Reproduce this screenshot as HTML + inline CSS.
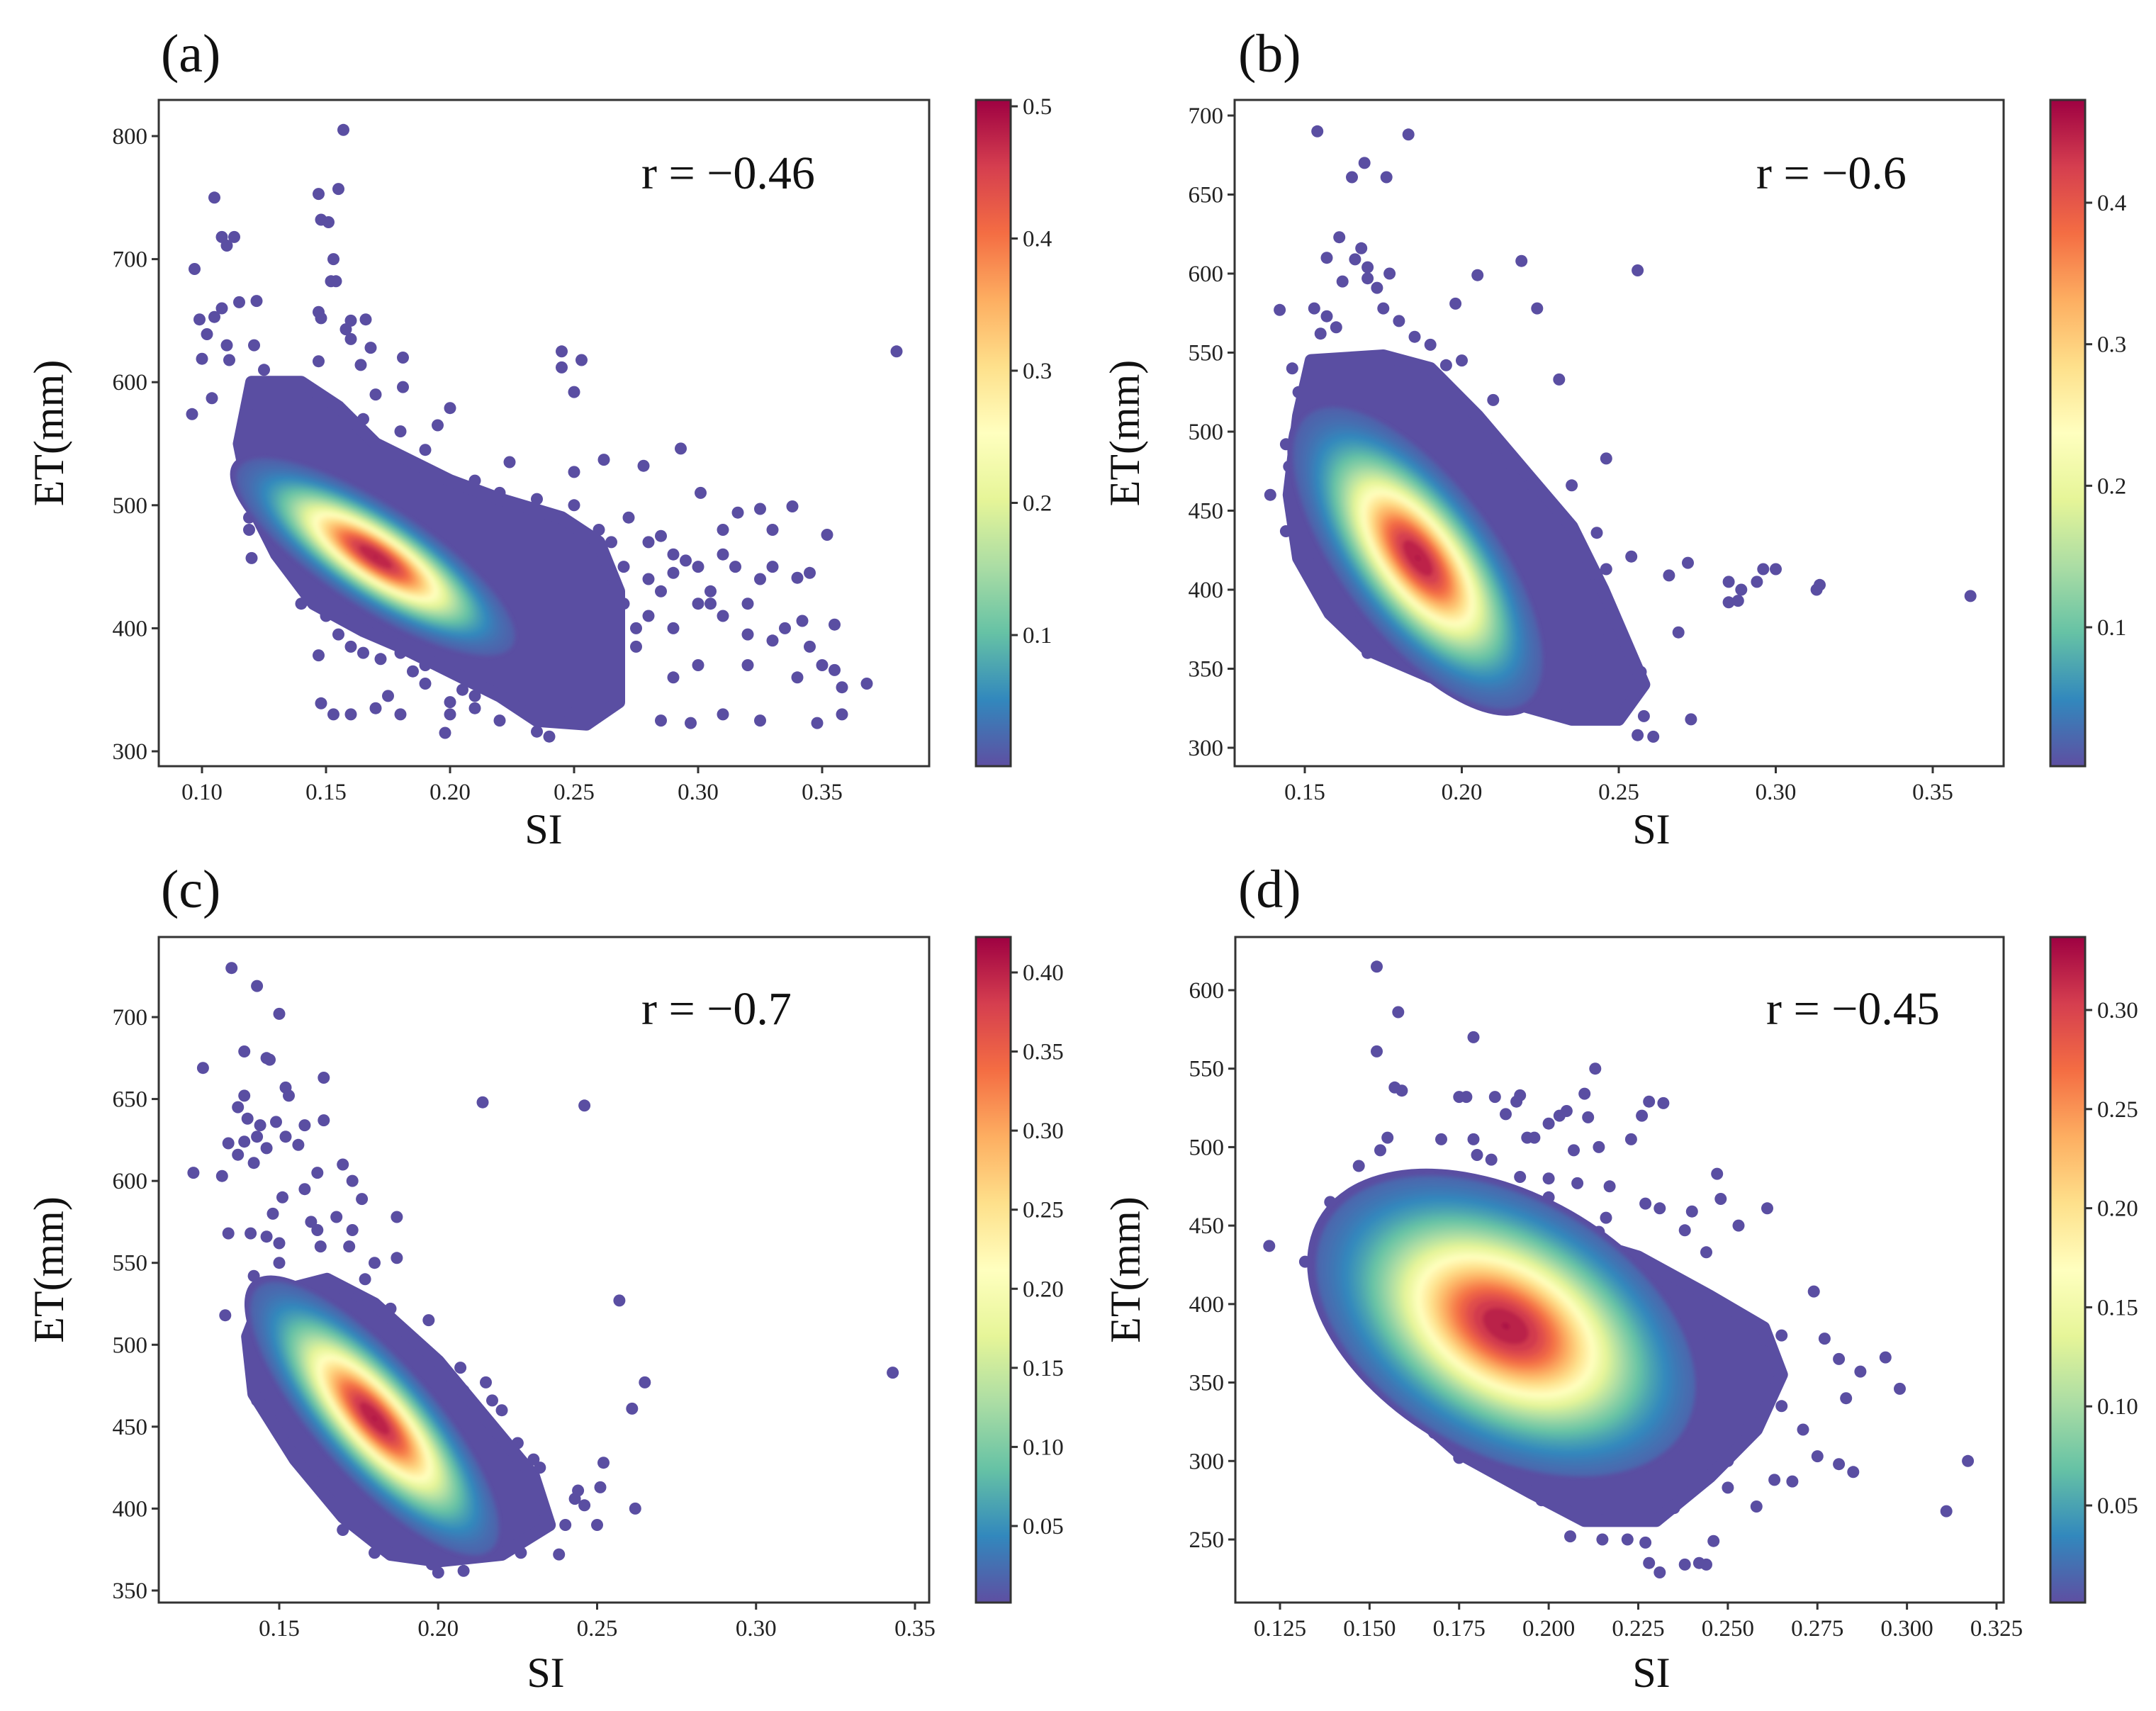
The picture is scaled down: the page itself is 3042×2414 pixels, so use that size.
<!DOCTYPE html>
<html><head><meta charset="utf-8">
<style>
html,body{margin:0;padding:0;background:#fff;}
svg{display:block;font-family:"Liberation Serif","DejaVu Serif",serif;}
</style></head>
<body>
<svg id="fig" width="3042" height="2414" viewBox="0 0 3042 2414" xmlns="http://www.w3.org/2000/svg">
<defs>
<filter id="soft" x="-10%" y="-10%" width="120%" height="120%"><feGaussianBlur stdDeviation="3"/></filter>
</defs>
</svg>
<script>
// ---------- DATA ----------
// Panel (a)
const aSI = [0.157,0.105,0.147,0.155,0.148,0.151,0.108,0.113,0.11,0.097,0.153,0.152,0.154,0.099,0.105,0.108,0.115,0.122,0.147,0.148,0.16,0.166,0.158,0.16,0.102,0.11,0.121,0.1,0.111,0.147,0.168,0.181,0.164,0.104,0.096,0.2,0.181,0.17,0.245,0.245,0.253,0.25,0.38,0.293,0.262,0.278,0.224,0.25,0.119,0.119,0.12,0.147,0.148,0.153,0.198,0.24,0.235,0.301,0.316,0.325,0.338,0.352,0.34,0.345,0.355,0.342,0.35,0.355,0.358,0.368,0.358,0.348,0.325,0.285,0.297,0.31,0.33,0.31,0.305,0.31,0.32,0.33,0.28,0.27,0.29,0.28,0.29,0.26,0.275,0.3,0.32,0.34,0.29,0.2,0.18,0.17,0.16,0.22,0.21,0.19,0.18,0.165,0.14,0.26,0.25,0.235,0.22,0.21,0.19,0.18,0.195,0.165,0.13,0.125,0.135,0.26,0.25,0.26,0.265,0.29,0.3,0.315,0.32,0.335,0.345,0.15,0.155,0.16,0.172,0.185,0.19,0.205,0.21,0.175,0.2,0.27,0.28,0.285,0.305,0.325,0.31,0.33,0.3,0.275,0.265,0.272,0.285,0.295];
const aET = [805,750,753,757,732,730,718,718,711,692,700,682,682,651,653,660,665,666,657,652,650,651,643,635,639,630,630,619,618,617,628,620,614,587,574,579,596,590,625,612,618,592,625,546,537,532,535,527,490,480,457,378,339,330,315,312,316,510,494,497,499,476,441,445,403,406,370,366,352,355,330,323,325,325,323,330,480,480,420,410,395,390,470,450,445,410,400,390,385,370,370,360,360,340,330,335,330,325,345,370,380,380,420,480,500,505,510,520,545,560,565,570,600,610,580,330,340,360,410,460,450,450,420,400,385,410,395,385,375,365,355,350,335,345,330,420,440,430,430,440,460,450,420,400,470,490,475,455];
const aHullSI = [0.12,0.14,0.155,0.17,0.2,0.22,0.245,0.26,0.268,0.268,0.255,0.235,0.22,0.2,0.18,0.165,0.145,0.13,0.12,0.115];
const aHullET = [600,600,580,550,520,505,490,470,430,340,322,325,345,365,385,398,420,460,500,550];
const aCore = [0.17, 458, 0.021, 30, -0.8, 0.5];   // centre SI, centre ET, sd SI, sd ET, rho, peak density
const aXTicks = [0.10,0.15,0.20,0.25,0.30,0.35];
const aYTicks = [300,400,500,600,700,800];
const aCTicks = [0.1,0.2,0.3,0.4,0.5];

// Panel (b)
const bSI = [0.154,0.183,0.169,0.165,0.176,0.161,0.168,0.157,0.166,0.17,0.162,0.17,0.173,0.177,0.219,0.205,0.256,0.198,0.224,0.142,0.153,0.157,0.16,0.155,0.231,0.246,0.235,0.222,0.139,0.144,0.145,0.144,0.152,0.16,0.165,0.167,0.243,0.243,0.246,0.254,0.266,0.272,0.285,0.289,0.285,0.288,0.294,0.296,0.3,0.313,0.314,0.362,0.246,0.269,0.273,0.261,0.256,0.258,0.252,0.257,0.242,0.23,0.23,0.21,0.2,0.195,0.19,0.185,0.18,0.175,0.215,0.22,0.21,0.205,0.2,0.148,0.146,0.15,0.148,0.155,0.17,0.18,0.19,0.2,0.215,0.225,0.235,0.24];
const bET = [690,688,670,661,661,623,616,610,609,604,595,597,591,600,608,599,602,581,578,577,578,573,566,562,533,483,466,467,460,492,478,437,416,397,380,368,436,410,413,421,409,417,405,400,392,393,405,413,413,400,403,396,375,373,318,307,308,320,350,348,355,445,440,520,545,542,555,560,570,578,480,460,490,500,510,525,540,500,463,440,360,355,350,345,338,330,325,320];
const bHullSI = [0.152,0.175,0.19,0.205,0.22,0.235,0.245,0.258,0.25,0.235,0.21,0.19,0.17,0.158,0.148,0.145,0.148];
const bHullET = [545,548,540,510,475,440,400,340,318,318,332,345,362,385,420,460,510];
const bCore = [0.186, 420, 0.015, 36, -0.68, 0.47];
const bXTicks = [0.15,0.20,0.25,0.30,0.35];
const bYTicks = [300,350,400,450,500,550,600,650,700];
const bCTicks = [0.1,0.2,0.3,0.4];

// Panel (c)
const cSI = [0.135,0.143,0.15,0.126,0.139,0.146,0.147,0.164,0.152,0.153,0.139,0.137,0.14,0.164,0.144,0.149,0.158,0.143,0.152,0.134,0.139,0.156,0.146,0.137,0.142,0.123,0.132,0.162,0.17,0.158,0.173,0.176,0.151,0.148,0.16,0.162,0.168,0.173,0.187,0.134,0.141,0.146,0.15,0.163,0.172,0.187,0.18,0.177,0.142,0.15,0.214,0.246,0.257,0.343,0.265,0.261,0.262,0.252,0.251,0.246,0.25,0.24,0.238,0.243,0.244,0.225,0.23,0.232,0.22,0.215,0.217,0.207,0.208,0.133,0.14,0.143,0.158,0.163,0.168,0.17,0.18,0.198,0.2,0.208,0.226,0.222,0.197,0.185,0.175];
const cET = [730,719,702,669,679,675,674,663,657,652,652,645,638,637,634,636,634,627,627,623,624,622,620,616,611,605,603,605,610,595,600,589,590,580,575,570,578,570,578,568,568,566,562,560,560,553,550,540,542,550,648,646,527,483,477,461,400,428,413,402,390,390,372,406,411,440,430,425,460,477,466,486,472,518,504,466,448,423,404,387,373,366,361,362,373,384,515,522,530];
const cHullSI = [0.145,0.165,0.18,0.2,0.215,0.23,0.235,0.22,0.2,0.185,0.17,0.155,0.142,0.14];
const cHullET = [530,540,525,490,455,420,390,372,368,372,395,430,470,505];
const cCore = [0.18, 455, 0.015, 32, -0.8, 0.42];
const cXTicks = [0.15,0.20,0.25,0.30,0.35];
const cYTicks = [350,400,450,500,550,600,650,700];
const cCTicks = [0.05,0.10,0.15,0.20,0.25,0.30,0.35,0.40];

// Panel (d)
const dSI = [0.152,0.158,0.179,0.152,0.213,0.157,0.159,0.177,0.175,0.185,0.192,0.191,0.21,0.228,0.232,0.226,0.211,0.2,0.203,0.188,0.205,0.223,0.214,0.207,0.196,0.194,0.179,0.17,0.155,0.153,0.147,0.156,0.17,0.18,0.184,0.192,0.2,0.208,0.2,0.217,0.216,0.206,0.214,0.247,0.248,0.261,0.231,0.24,0.227,0.253,0.238,0.244,0.139,0.147,0.122,0.132,0.274,0.277,0.294,0.281,0.287,0.298,0.283,0.317,0.311,0.285,0.281,0.275,0.271,0.268,0.263,0.258,0.25,0.246,0.244,0.242,0.238,0.231,0.228,0.227,0.222,0.215,0.206,0.198,0.175,0.168,0.158,0.153,0.14,0.265,0.26,0.262,0.265,0.255,0.25,0.24,0.235,0.225,0.215,0.245,0.25,0.26];
const dET = [615,586,570,561,550,538,536,532,532,532,533,529,534,529,528,520,519,515,520,521,523,505,500,498,506,506,505,505,506,498,488,476,480,495,492,481,480,477,468,475,455,455,446,483,467,461,461,459,464,450,447,433,465,468,437,427,408,378,366,365,357,346,340,300,268,293,298,303,320,287,288,271,283,249,234,235,234,229,235,248,250,250,252,275,302,318,342,354,400,380,355,345,335,320,300,290,270,265,262,380,395,370];
const dHullSI = [0.14,0.16,0.2,0.225,0.245,0.26,0.265,0.258,0.245,0.23,0.21,0.195,0.175,0.16,0.148,0.138];
const dHullET = [440,452,447,430,405,385,355,320,290,262,262,280,305,335,365,400];
const dCore = [0.188, 386, 0.021, 38, -0.4, 0.335];
const dXTicks = [0.125,0.150,0.175,0.200,0.225,0.250,0.275,0.300,0.325];
const dYTicks = [250,300,350,400,450,500,550,600];
const dCTicks = [0.05,0.10,0.15,0.20,0.25,0.30];

// ---------- RENDER ----------
const NS='http://www.w3.org/2000/svg';
const svg=document.getElementById('fig');
const PURPLE='#5a4ea2';
const stops=['#5e4fa2','#3288bd','#66c2a5','#abdda4','#e6f598','#ffffbf','#fee08b','#fdae61','#f46d43','#d53e4f','#9e0142'];
function hex(h){return [parseInt(h.substr(1,2),16),parseInt(h.substr(3,2),16),parseInt(h.substr(5,2),16)];}
function cmap(t){t=Math.max(0,Math.min(1,t));const f=t*10,i=Math.min(9,Math.floor(f)),u=f-i;const a=hex(stops[i]),b=hex(stops[i+1]);
 return 'rgb('+a.map((v,k)=>Math.round(v+(b[k]-v)*u)).join(',')+')';}
function mk(tag,attrs,parent){const e=document.createElementNS(NS,tag);for(const k in attrs)e.setAttribute(k,attrs[k]);(parent||svg).appendChild(e);return e;}
function lin(v0,p0,v1,p1){return v=>p0+(v-v0)*(p1-p0)/(v1-v0);}

const panels=[
 {id:'a',letter:'(a)',r:'r = \u22120.46',si:aSI,et:aET,hs:aHullSI,he:aHullET,core:aCore,xt:aXTicks,yt:aYTicks,ct:aCTicks,xd:2,cd:1,
  L:224,R:1311,T:141,B:1081,x:lin(0.10,285,0.35,1160),y:lin(800,192,300,1060),cbx:1377,cb:lin(0.1,896,0.5,150),lx:227,ly:101,rx:905,ry:266,six:767,siy:1190},
 {id:'b',letter:'(b)',r:'r = \u22120.6',si:bSI,et:bET,hs:bHullSI,he:bHullET,core:bCore,xt:bXTicks,yt:bYTicks,ct:bCTicks,xd:2,cd:1,
  L:1742,R:2827,T:141,B:1081,x:lin(0.15,1841,0.35,2727),y:lin(700,163,300,1055),cbx:2893,cb:lin(0.1,885,0.4,286),lx:1747,ly:101,rx:2478,ry:266,six:2330,siy:1190},
 {id:'c',letter:'(c)',r:'r = \u22120.7',si:cSI,et:cET,hs:cHullSI,he:cHullET,core:cCore,xt:cXTicks,yt:cYTicks,ct:cCTicks,xd:2,cd:2,
  L:224,R:1311,T:1322,B:2261,x:lin(0.15,394,0.35,1291),y:lin(700,1435,350,2244),cbx:1377,cb:lin(0.05,2153,0.40,1372),lx:227,ly:1280,rx:905,ry:1445,six:770,siy:2380},
 {id:'d',letter:'(d)',r:'r = \u22120.45',si:dSI,et:dET,hs:dHullSI,he:dHullET,core:dCore,xt:dXTicks,yt:dYTicks,ct:dCTicks,xd:3,cd:2,
  L:1743,R:2827,T:1322,B:2261,x:lin(0.125,1806,0.325,2817),y:lin(600,1397,250,2172),cbx:2893,cb:lin(0.05,2124,0.30,1425),lx:1747,ly:1280,rx:2492,ry:1445,six:2330,siy:2380}
];

panels.forEach(p=>{
 const g=mk('g',{});
 
 
 const cp=mk('clipPath',{id:'clip-'+p.id},svg.querySelector('defs'));
 mk('rect',{x:p.L,y:p.T,width:p.R-p.L,height:p.B-p.T},cp);
 const lt=mk('text',{x:p.lx,y:p.ly,'font-size':76,fill:'#111'},g);lt.textContent=p.letter;
 
 
 const plot=mk('g',{'clip-path':'url(#clip-'+p.id+')'},g);
 
 
 let pts=p.hs.map((s,i)=>p.x(s).toFixed(1)+','+p.y(p.he[i]).toFixed(1)).join(' ');
 const hull=mk('polygon',{points:pts,fill:PURPLE,stroke:PURPLE,'stroke-width':18,'stroke-linejoin':'round'},plot);
 
 
 p.si.forEach((s,i)=>{
  const c=mk('circle',{cx:p.x(s).toFixed(1),cy:p.y(p.et[i]).toFixed(1),r:8.5,fill:PURPLE},plot);
  
  
 });
 const [cs,ce,ss,se,rho,peak]=p.core;
 const kx=Math.abs(p.x(1)-p.x(0)),ky=Math.abs(p.y(1)-p.y(0));
 const sxx=(ss*kx)**2,syy=(se*ky)**2,sxy=-rho*ss*kx*se*ky;
 const tr=(sxx+syy)/2,dd=Math.sqrt(((sxx-syy)/2)**2+sxy*sxy);
 const l1=tr+dd,l2=tr-dd;
 const ang=Math.atan2(l1-sxx,sxy)*180/Math.PI;
 const cbTopVal=(()=>{const f=p.cb;const p0=f(0),p1=f(1);return (p.T-p0)/(p1-p0);})();
 const cx=p.x(cs),cy=p.y(ce);
 const N=70,dmin=0.014;
 const rOut=Math.sqrt(2*Math.log(peak/dmin))+0.12;
 const halo=mk('ellipse',{cx:cx.toFixed(1),cy:cy.toFixed(1),rx:(rOut*Math.sqrt(l1)).toFixed(1),ry:(rOut*Math.sqrt(l2)).toFixed(1),
   transform:'rotate('+ang.toFixed(2)+' '+cx.toFixed(1)+' '+cy.toFixed(1)+')',fill:PURPLE},plot);
 
 
 const core=mk('g',{filter:'url(#soft)'},plot);
 
 
 for(let i=0;i<N;i++){
  const d=dmin*Math.pow(peak/dmin,i/(N-1))*0.999;
  const r=Math.sqrt(2*Math.log(peak/d));
  if(r<=0)continue;
  const e=mk('ellipse',{cx:cx.toFixed(1),cy:cy.toFixed(1),rx:(r*Math.sqrt(l1)).toFixed(1),ry:(r*Math.sqrt(l2)).toFixed(1),
   transform:'rotate('+ang.toFixed(2)+' '+cx.toFixed(1)+' '+cy.toFixed(1)+')',fill:cmap(d/cbTopVal)},core);
  
  
 }
 const fr=mk('rect',{x:p.L,y:p.T,width:p.R-p.L,height:p.B-p.T,fill:'none',stroke:'#333',"stroke-width":3},g);
 
 
 p.xt.forEach(v=>{
  const X=p.x(v);
  mk('line',{x1:X,y1:p.B,x2:X,y2:p.B+10,stroke:'#333','stroke-width':3},g);
  const t=mk('text',{x:X,y:p.B+47,'font-size':33,'text-anchor':'middle',fill:'#222'},g);t.textContent=v.toFixed(p.xd);
  
  
 });
 p.yt.forEach(v=>{
  const Y=p.y(v);
  mk('line',{x1:p.L-10,y1:Y,x2:p.L,y2:Y,stroke:'#333','stroke-width':3},g);
  const t=mk('text',{x:p.L-16,y:Y+11,'font-size':33,'text-anchor':'end',fill:'#222'},g);t.textContent=String(v);
  
  
 });
 const xl=mk('text',{x:p.six,y:p.siy,'font-size':60,'text-anchor':'middle',fill:'#111'},g);xl.textContent='SI';
 
 
 const ylx=p.L-135,yly=(p.T+p.B)/2;
 const yl=mk('text',{x:ylx,y:yly,'font-size':60,'text-anchor':'middle',fill:'#111',transform:'rotate(-90 '+ylx+' '+yly+')'},g);yl.textContent='ET(mm)';
 
 
 const rt=mk('text',{x:p.rx,y:p.ry,'font-size':66,fill:'#111'},g);rt.textContent=p.r;
 
 
 const gid='cbg-'+p.id;
 const lg=mk('linearGradient',{id:gid,x1:0,y1:1,x2:0,y2:0},svg.querySelector('defs'));
 for(let k=0;k<=10;k++)mk('stop',{offset:k/10,'stop-color':stops[k]},lg);
 const cbr=mk('rect',{x:p.cbx,y:p.T,width:49,height:p.B-p.T,fill:'url(#'+gid+')',stroke:'#333','stroke-width':3},g);
 
 
 p.ct.forEach(v=>{
  const Y=p.cb(v);
  mk('line',{x1:p.cbx+49,y1:Y,x2:p.cbx+59,y2:Y,stroke:'#333','stroke-width':3},g);
  const t=mk('text',{x:p.cbx+66,y:Y+11,'font-size':33,fill:'#222'},g);t.textContent=v.toFixed(p.cd);
  
  
 });
});
</script>
</body></html>
